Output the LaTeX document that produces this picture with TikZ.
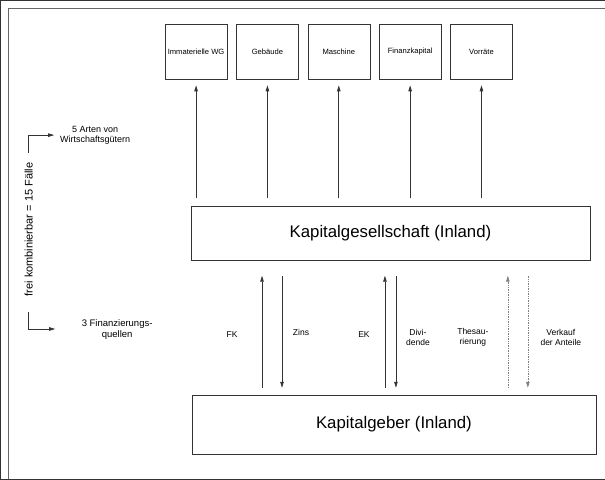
\documentclass[tikz,border=0pt]{standalone}
\usepackage{fontspec}
\setmainfont{Liberation Sans}
\usetikzlibrary{arrows.meta, positioning}

\begin{document}
\begin{tikzpicture}[
  x=1pt, y=-1pt,
  asset/.style={draw, minimum width=62pt, minimum height=55pt, inner sep=1pt, font=\fontsize{7.6}{9}\selectfont},
  party/.style={draw, minimum height=54pt, font=\fontsize{16.8}{20}\selectfont},
  lbl/.style={align=center, font=\fontsize{8.5}{10}\selectfont},
  arrow/.style={-{Triangle[length=6pt, width=3.5pt]}, line width=0.7pt},
  flow/.style={arrow, densely dotted, gray},
  every path/.style={draw=black!80},
]
  \useasboundingbox (0,0) rectangle (605,479);
  \draw[line width=0.9pt, black!60] (8,479) -- (8,8) -- (605,8);

  % Wirtschaftsgueter
  \node[asset] (wg) at (196,51.5) {Immaterielle WG};
  \node[asset, right=9pt of wg] (geb) {Gebäude};
  \node[asset, right=9pt of geb] (masch) {Maschine};
  \node[asset, right=9pt of masch] (fin) {Finanzkapital};
  \node[asset, right=9pt of fin] (vor) {Vorräte};

  \node[party, minimum width=399pt] (kg) at (390.5,233.5) {Kapitalgesellschaft (Inland)};
  \node[party, minimum width=404pt, minimum height=59pt] (geber) at (394,424.5) {Kapitalgeber (Inland)};

  \foreach \n in {wg, geb, masch, fin, vor}
    \draw[arrow] ([yshift=8pt]kg.north -| \n.south) -- ([yshift=-6pt]\n.south);

  % Finanzierungsquellen
  \coordinate (fk) at (262,0);
  \coordinate (zins) at (282,0);
  \coordinate (ek) at (385,0);
  \coordinate (div) at (396,0);
  \coordinate (thes) at (508,0);
  \coordinate (verk) at (528,0);
  \draw[arrow] ([yshift=7pt]geber.north -| fk) -- ([yshift=-15pt]kg.south -| fk);
  \draw[arrow] ([yshift=-15pt]kg.south -| zins) -- ([yshift=7pt]geber.north -| zins);
  \draw[arrow] ([yshift=7pt]geber.north -| ek) -- ([yshift=-15pt]kg.south -| ek);
  \draw[arrow] ([yshift=-15pt]kg.south -| div) -- ([yshift=7pt]geber.north -| div);
  \draw[flow] ([yshift=7pt]geber.north -| thes) -- ([yshift=-15pt]kg.south -| thes);
  \draw[flow] ([yshift=-15pt]kg.south -| verk) -- ([yshift=7pt]geber.north -| verk);

  \node[lbl] (lfk) at (232,335) {FK};
  \node[lbl] (lzins) at (301,332) {Zins};
  \node[lbl] (lek) at (364,335) {EK};
  \node[lbl] (ldiv) at (418,337) {Divi-\\dende};
  \node[lbl] (lthes) at (473,337) {Thesau-\\rierung};
  \node[lbl] (lverk) at (561,337) {Verkauf\\der Anteile};

  % linke Seite
  \node[lbl, font=\fontsize{9}{10.5}\selectfont] (arten) at (95,135) {5 Arten von\\Wirtschaftsgütern};
  \node[lbl, font=\fontsize{9.5}{11}\selectfont] (quellen) at (117,330) {3 Finanzierungs-\\quellen};
  \node[lbl, font=\fontsize{11}{13}\selectfont, rotate=90] (komb) at (28.5,229.5) {frei kombinierbar = 15 Fälle};
  \coordinate (artenpfeil) at (54,135);
  \coordinate (quellenpfeil) at (55,329);
  \draw[arrow] ([yshift=6.5pt]komb.east) |- (artenpfeil);
  \draw[arrow] ([yshift=-12pt]komb.west) |- (quellenpfeil);
\end{tikzpicture}
\end{document}
